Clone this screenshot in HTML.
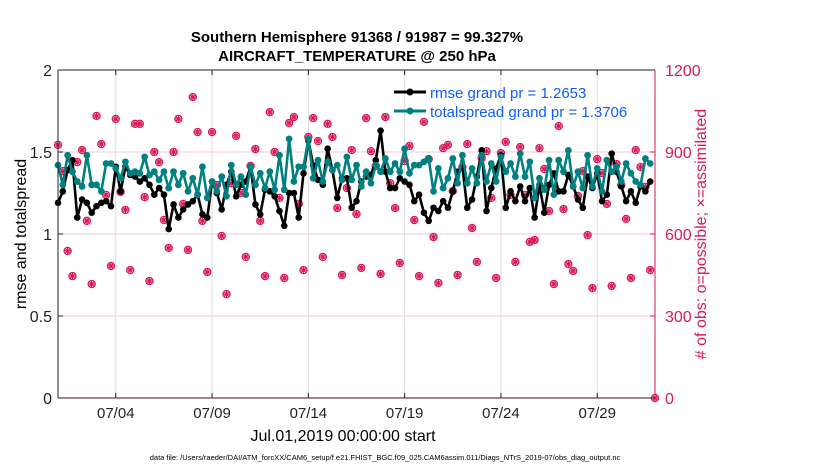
<!DOCTYPE html>
<html><head><meta charset="utf-8"><style>
body{margin:0;background:#fff;}
svg text{font-family:"Liberation Sans",Arial,sans-serif;}
</style></head><body>
<svg id="chart" width="830" height="470" viewBox="0 0 830 470" xmlns="http://www.w3.org/2000/svg">
<rect width="830" height="470" fill="#fff"/>
<g id="grid"></g>
<g id="obs"></g>
<g id="series"></g>
<g id="axes"></g>
<text x="357" y="42" font-size="15" font-weight="bold" text-anchor="middle">Southern Hemisphere 91368 / 91987 = 99.327%</text>
<text x="357" y="61" font-size="15" font-weight="bold" text-anchor="middle">AIRCRAFT_TEMPERATURE @ 250 hPa</text>
<text transform="translate(26,234) rotate(-90)" font-size="16" text-anchor="middle">rmse and totalspread</text>
<text transform="translate(706,234) rotate(-90)" font-size="16" fill="#d8195a" text-anchor="middle"># of obs: o=possible; ×=assimilated</text>
<text x="343" y="441" font-size="16" text-anchor="middle">Jul.01,2019 00:00:00 start</text>
<text x="385" y="460" font-size="7.5" text-anchor="middle">data file: /Users/raeder/DAI/ATM_forcXX/CAM6_setup/f.e21.FHIST_BGC.f09_025.CAM6assim.011/Diags_NTrS_2019-07/obs_diag_output.nc</text>
<g>
 <g>
  <line x1="394" y1="92" x2="426" y2="92" stroke="#000" stroke-width="3"/>
  <circle cx="410" cy="92" r="3.5" fill="#000"/>
  <text x="430" y="98" font-size="15" fill="#1060f0">rmse grand pr = 1.2653</text>
 </g>
 <g>
  <line x1="394" y1="111" x2="426" y2="111" stroke="#008080" stroke-width="3"/>
  <circle cx="410" cy="111" r="3.5" fill="#008080"/>
  <text x="430" y="117" font-size="15" fill="#1060f0">totalspread grand pr = 1.3706</text>
 </g>
</g>
</svg>
<script>
const xTickLabels=["07/04","07/09","07/14","07/19","07/24","07/29"];
const xTickDays=[3,8,13,18,23,28];
const leftTicks=[0,0.5,1,1.5,2];
const leftTickLabels=["0","0.5","1","1.5","2"];
const rightTicks=[0,300,600,900,1200];
const rmse=[1.19,1.26,1.39,1.45,1.10,1.21,1.19,1.13,1.17,1.19,1.20,1.17,1.41,1.26,1.41,1.36,1.35,1.32,1.34,1.30,1.24,1.28,1.24,1.03,1.18,1.10,1.15,1.18,1.20,1.24,1.12,1.10,1.32,1.25,1.15,1.30,1.38,1.23,1.30,1.32,1.41,1.18,1.12,1.27,1.26,1.23,1.14,1.05,1.25,1.25,1.10,1.37,1.57,1.42,1.33,1.30,1.52,1.39,1.22,1.34,1.34,1.16,1.20,1.32,1.35,1.36,1.45,1.63,1.38,1.28,1.28,1.34,1.32,1.30,1.20,1.24,1.13,1.08,1.16,1.14,1.20,1.16,1.26,1.38,1.41,1.16,1.21,1.35,1.51,1.14,1.28,1.40,1.48,1.16,1.26,1.20,1.29,1.20,1.28,1.10,1.30,1.13,1.30,1.37,1.26,1.26,1.36,1.29,1.21,1.16,1.35,1.28,1.37,1.20,1.24,1.49,1.38,1.29,1.20,1.26,1.19,1.29,1.26,1.32];
const spread=[1.42,1.30,1.48,1.38,1.32,1.29,1.48,1.30,1.30,1.26,1.43,1.43,1.40,1.34,1.44,1.37,1.38,1.37,1.47,1.36,1.38,1.33,1.38,1.28,1.38,1.30,1.37,1.26,1.34,1.24,1.41,1.22,1.32,1.26,1.35,1.23,1.42,1.30,1.35,1.24,1.41,1.30,1.37,1.28,1.38,1.27,1.48,1.27,1.58,1.32,1.41,1.41,1.58,1.34,1.45,1.32,1.44,1.39,1.42,1.33,1.47,1.33,1.42,1.29,1.38,1.31,1.42,1.38,1.46,1.38,1.43,1.38,1.52,1.37,1.42,1.42,1.44,1.46,1.26,1.40,1.28,1.34,1.46,1.31,1.48,1.31,1.40,1.31,1.48,1.32,1.43,1.32,1.47,1.38,1.43,1.35,1.49,1.35,1.44,1.22,1.34,1.27,1.45,1.24,1.45,1.38,1.51,1.29,1.38,1.28,1.48,1.29,1.40,1.26,1.45,1.38,1.41,1.32,1.43,1.37,1.32,1.30,1.46,1.43];
const nobs=[926,830,538,446,863,907,648,417,1032,929,743,483,1021,754,688,468,1003,1003,735,428,900,863,651,549,900,1021,710,542,1101,973,648,461,973,779,593,380,786,959,750,516,849,911,648,446,1046,900,732,439,1006,1028,710,468,955,1024,940,516,1003,955,695,450,768,907,673,476,1024,903,849,454,1028,786,695,494,867,922,651,446,1010,874,589,421,914,926,757,450,845,929,622,498,878,903,732,439,896,937,743,498,918,743,571,578,914,838,684,417,995,691,490,465,739,830,596,402,874,823,710,410,856,779,655,439,907,845,772,468,0];

const X0=58,X1=655,Y0=398,Y1=70,DAYS=31;
const NS="http://www.w3.org/2000/svg";
function xs(day){return X0+(X1-X0)*day/DAYS;}
function yl(v){return Y0-(Y0-Y1)*v/2;}
function yr(v){return Y0-(Y0-Y1)*v/1200;}
function mk(tag,attrs,parent){const e=document.createElementNS(NS,tag);for(const k in attrs)e.setAttribute(k,attrs[k]);parent.appendChild(e);return e;}
const grid=document.getElementById('grid'),axes=document.getElementById('axes'),obsG=document.getElementById('obs'),ser=document.getElementById('series');
const MAG="#d8195a";
xTickDays.forEach((d,i)=>{
 const l=mk('line',{x1:xs(d),x2:xs(d),y1:Y1,y2:Y0,stroke:'#dcdcdc','stroke-width':1},grid);
 
 
 const t=mk('text',{x:xs(d),y:418,'font-size':15,'text-anchor':'middle',fill:'#222'},axes);
 t.textContent=xTickLabels[i];
 
 
 mk('line',{x1:xs(d),x2:xs(d),y1:Y0,y2:Y0-5,stroke:'#222'},axes);
 mk('line',{x1:xs(d),x2:xs(d),y1:Y1,y2:Y1+5,stroke:'#222'},axes);
});
rightTicks.forEach(v=>{
 if(v>0&&v<1200){const l=mk('line',{x1:X0,x2:X1,y1:yr(v),y2:yr(v),stroke:'#f6c8d8','stroke-width':1},grid);
 
 }
 const t=mk('text',{x:X1+10,y:yr(v)+6,'font-size':16,fill:MAG},axes);
 t.textContent=String(v);
 
 
 mk('line',{x1:X1,x2:X1-5,y1:yr(v),y2:yr(v),stroke:MAG},axes);
});
leftTicks.forEach((v,i)=>{
 const t=mk('text',{x:X0-6,y:yl(v)+6,'font-size':16,'text-anchor':'end',fill:'#222'},axes);
 t.textContent=leftTickLabels[i];
 
 
 mk('line',{x1:X0,x2:X0+5,y1:yl(v),y2:yl(v),stroke:'#222'},axes);
});
mk('line',{x1:X0,x2:X1,y1:Y1,y2:Y1,stroke:'#222'},axes);
mk('line',{x1:X0,x2:X1,y1:Y0,y2:Y0,stroke:'#3a1a22'},axes);
mk('line',{x1:X0,x2:X0,y1:Y1,y2:Y0,stroke:'#222'},axes);
mk('line',{x1:X1,x2:X1,y1:Y1,y2:Y0,stroke:MAG},axes);
nobs.forEach((v,i)=>{
 const cx=xs(i*0.25),cy=yr(v);
 const g=mk('g',{},obsG);
 
 
 mk('circle',{cx:cx,cy:cy,r:3.6,fill:'none',stroke:MAG,'stroke-width':1.2},g);
 for(let a=0;a<4;a++){const an=a*Math.PI/4;mk('line',{x1:cx-3.6*Math.cos(an),y1:cy-3.6*Math.sin(an),x2:cx+3.6*Math.cos(an),y2:cy+3.6*Math.sin(an),stroke:MAG,'stroke-width':1.2},g);}
});
function drawSeries(arr,color,name,r){
 const pts=arr.map((v,i)=>xs(i*0.25).toFixed(1)+','+yl(v).toFixed(1)).join(' ');
 const pl=mk('polyline',{points:pts,fill:'none',stroke:color,'stroke-width':2.6,'stroke-linejoin':'round'},ser);
 
 
 arr.forEach((v,i)=>{
  const c=mk('circle',{cx:xs(i*0.25),cy:yl(v),r:r,fill:color},ser);
  
  
 });
}
drawSeries(rmse,'#000','rmse',3.3);
drawSeries(spread,'#008080','totalspread',3.4);
</script>
</body></html>
